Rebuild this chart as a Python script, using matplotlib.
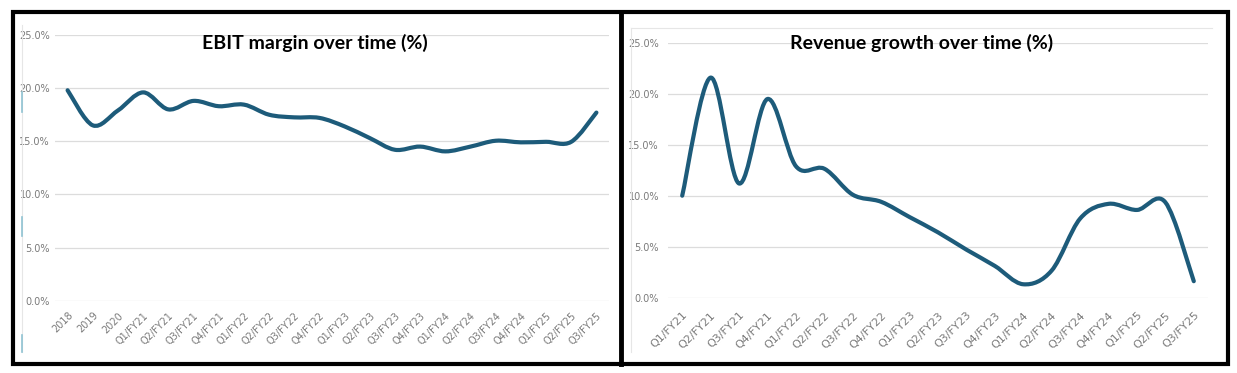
import numpy as np
import matplotlib
matplotlib.use('Agg')
import matplotlib.pyplot as plt
from matplotlib.path import Path
from matplotlib.patches import PathPatch, Rectangle
from matplotlib.lines import Line2D
from matplotlib.ticker import PercentFormatter

# data
ebit_periods = ['2018', '2019', '2020', 'Q1/FY21', 'Q2/FY21', 'Q3/FY21', 'Q4/FY21',
                'Q1/FY22', 'Q2/FY22', 'Q3/FY22', 'Q4/FY22', 'Q1/FY23', 'Q2/FY23',
                'Q3/FY23', 'Q4/FY23', 'Q1/FY24', 'Q2/FY24', 'Q3/FY24', 'Q4/FY24',
                'Q1/FY25', 'Q2/FY25', 'Q3/FY25']
ebit_margin = [19.8, 16.5, 17.9, 19.6, 18.0, 18.8, 18.3, 18.45, 17.5, 17.25, 17.2,
               16.4, 15.3, 14.2, 14.5, 14.05, 14.5, 15.05, 14.9, 14.95, 14.95, 17.7]

rev_periods = ['Q1/FY21', 'Q2/FY21', 'Q3/FY21', 'Q4/FY21', 'Q1/FY22', 'Q2/FY22',
               'Q3/FY22', 'Q4/FY22', 'Q1/FY23', 'Q2/FY23', 'Q3/FY23', 'Q4/FY23',
               'Q1/FY24', 'Q2/FY24', 'Q3/FY24', 'Q4/FY24', 'Q1/FY25', 'Q2/FY25',
               'Q3/FY25']
rev_growth = [10.0, 21.6, 11.2, 19.5, 12.9, 12.65, 10.1, 9.4, 7.9, 6.4, 4.7, 3.1,
              1.3, 2.65, 7.75, 9.2, 8.6, 9.35, 1.6]

LINE_COLOR = '#1d5b7a'
TICK_COLOR = '#7a7a7a'
GRID_COLOR = '#dcdcdc'
NARROW = ['Liberation Sans Narrow', 'DejaVu Sans']

W, H = 1237, 373


def fx(px):
    return px / W


def fy(py):
    return 1 - py / H


def smooth_path(xs, ys):
    # Excel-like smoothed line: cubic bezier segments through every point
    pts = np.column_stack([xs, ys]).astype(float)
    n = len(pts)
    verts = [pts[0]]
    codes = [Path.MOVETO]
    for i in range(n - 1):
        p_prev = pts[max(i - 1, 0)]
        p0, p1 = pts[i], pts[i + 1]
        p_next = pts[min(i + 2, n - 1)]
        verts += [p0 + (p1 - p_prev) / 6, p1 - (p_next - p0) / 6, p1]
        codes += [Path.CURVE4] * 3
    return Path(verts, codes)


def draw_panel(ax, periods, values, xtick_size, xpad, ypad):
    x = np.arange(len(values))
    ax.add_patch(PathPatch(smooth_path(x, values), fill=False, edgecolor=LINE_COLOR,
                           lw=3, capstyle='round', joinstyle='round'))
    ax.set_xlim(-0.5, len(values) - 0.5)
    ax.set_ylim(0, 25)
    ax.set_yticks(np.arange(0, 26, 5))
    ax.yaxis.set_major_formatter(PercentFormatter(decimals=1))
    ax.grid(axis='y', color=GRID_COLOR, lw=0.9)
    ax.set_axisbelow(True)
    ax.patch.set_visible(False)
    for s in ax.spines.values():
        s.set_visible(False)
    ax.set_xticks(x)
    ax.set_xticklabels(periods, rotation=45, ha='right', va='top',
                       rotation_mode='anchor', fontsize=xtick_size,
                       family=NARROW, color=TICK_COLOR)
    for lab in ax.get_yticklabels():
        lab.set_family(NARROW)
        lab.set_fontsize(7)
        lab.set_color(TICK_COLOR)
    ax.tick_params(axis='x', length=0, pad=xpad)
    ax.tick_params(axis='y', length=0, pad=ypad)


fig = plt.figure(figsize=(W / 100, H / 100), dpi=100)

ax1 = fig.add_axes([fx(55), fy(300.7), fx(609 - 55), (300.7 - 35) / H])
draw_panel(ax1, ebit_periods, ebit_margin, 7, 7, 3.6)

ax2 = fig.add_axes([fx(668), fy(297.5), fx(1208 - 668), (297.5 - 43) / H])
draw_panel(ax2, rev_periods, rev_growth, 8, 9, 6.5)

fig.text(fx(315), fy(42.5), 'EBIT margin over time (%)', ha='center', va='center',
         fontsize=14, fontweight='bold', family=['Lato', 'DejaVu Sans'])
fig.text(fx(922), fy(42.5), 'Revenue growth over time (%)', ha='center', va='center',
         fontsize=14, fontweight='bold', family=['Lato', 'DejaVu Sans'])

# faint chart-area borders left over in the screenshot
fig.add_artist(Line2D([fx(22), fx(22)], [fy(25), fy(352)], color='#e6e6e6', lw=0.8))
for y0, y1 in [(92, 112), (217, 236), (335, 352)]:
    fig.add_artist(Line2D([fx(22), fx(22)], [fy(y0), fy(y1)], color='#8fc3d2', lw=1.2))
fig.add_artist(Line2D([fx(631), fx(631)], [fy(28), fy(352)], color='#e6e6e6', lw=0.8))
fig.add_artist(Line2D([fx(631), fx(1212)], [fy(28), fy(28)], color='#e6e6e6', lw=0.8))

# black frames around the two panels
fig.add_artist(Rectangle((fx(13), fy(364)), fx(1228 - 13), (364 - 12) / H,
                         transform=fig.transFigure, fill=False, ec='black', lw=3))
fig.add_artist(Line2D([fx(621), fx(621)], [fy(12), fy(364)], color='black', lw=3.5))

fig.savefig('out.png', dpi=100)
